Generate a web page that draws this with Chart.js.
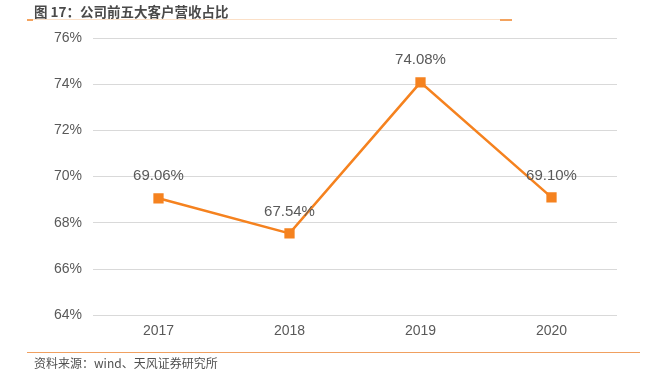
<!DOCTYPE html>
<html>
<head>
<meta charset="utf-8">
<script src="https://cdn.jsdelivr.net/npm/chart.js@4.4.0/dist/chart.umd.min.js"></script>
<style>
  body { margin: 0; background: #fff; }
  #wrap { position: relative; width: 664px; height: 372px; overflow: hidden; }
  #chart { position: absolute; left: 0; top: 0; }
  .title { position: absolute; left: 34px; top: 1px; font: bold 13.5px "Noto Sans CJK SC", sans-serif; color: #4a4a4a; }
  .src { position: absolute; left: 34px; top: 354px; font: 12px "Noto Sans CJK SC", sans-serif; color: #505050; }
  .topline { position: absolute; left: 27px; top: 19px; width: 485px; height: 1px; background: #fbe0c8; }
  .tl1 { position: absolute; left: 27px; top: 19px; width: 6px; height: 2px; background: #f3a35f; }
  .tl2 { position: absolute; left: 500px; top: 19px; width: 12px; height: 2px; background: #f3a35f; }
  .botline { position: absolute; left: 27px; top: 352px; width: 613px; height: 1px; background: #f0a060; }
</style>
</head>
<body>
<div id="wrap">
  <canvas id="chart" width="664" height="372"></canvas>
  <div class="title">图 17：公司前五大客户营收占比</div>
  <div class="topline"></div><div class="tl1"></div><div class="tl2"></div>
  <div class="botline"></div>
  <div class="src">资料来源：wind、天风证券研究所</div>
</div>
<script>
var anni = ['2017', '2018', '2019', '2020'];
var quota = [69.06, 67.54, 74.08, 69.10];
var tickMin = 64;
var tickMax = 76;

var etichette = {
    id: 'etichette',
    afterDatasetsDraw: function (chart) {
        var ctx = chart.ctx;
        var meta = chart.getDatasetMeta(0);
        ctx.save();
        ctx.font = '15px "Liberation Sans", Arial, sans-serif';
        ctx.fillStyle = '#595959';
        ctx.textAlign = 'center';
        ctx.textBaseline = 'middle';
        for (var i = 0; i < meta.data.length; i++) {
            var p = meta.data[i];
            ctx.fillText(quota[i].toFixed(2) + '%', p.x, p.y - 22);
        }
        ctx.restore();
    }
};

var ctx = document.getElementById('chart');
var chart = new Chart(ctx, {
    type: 'line',
    data: {
        labels: anni,
        datasets: [{
            data: quota,
            borderColor: '#f5821f',
            backgroundColor: '#f5821f',
            borderWidth: 2.5,
            pointStyle: 'rect',
            pointRadius: 5.5,
            pointHoverRadius: 5.5,
            tension: 0
        }]
    },
    options: {
        responsive: false,
        animation: false,
        layout: { padding: { left: 0, right: 47, top: 38, bottom: 24 } },
        plugins: { legend: { display: false }, tooltip: { enabled: false } },
        scales: {
            x: {
                offset: true,
                grid: { display: false, drawTicks: false },
                border: { display: false },
                ticks: { color: '#595959', padding: 8, font: { size: 14, family: '"Liberation Sans", Arial, sans-serif' } }
            },
            y: {
                min: tickMin,
                max: tickMax,
                grid: { color: '#d9d9d9', drawTicks: false },
                border: { display: false },
                ticks: {
                    stepSize: 2,
                    padding: 11,
                    color: '#595959',
                    font: { size: 14, family: '"Liberation Sans", Arial, sans-serif' },
                    callback: function (v) { return v + '%'; }
                },
                afterFit: function (s) { s.width = 93; }
            }
        }
    },
    plugins: [etichette]
});
</script>
</body>
</html>
